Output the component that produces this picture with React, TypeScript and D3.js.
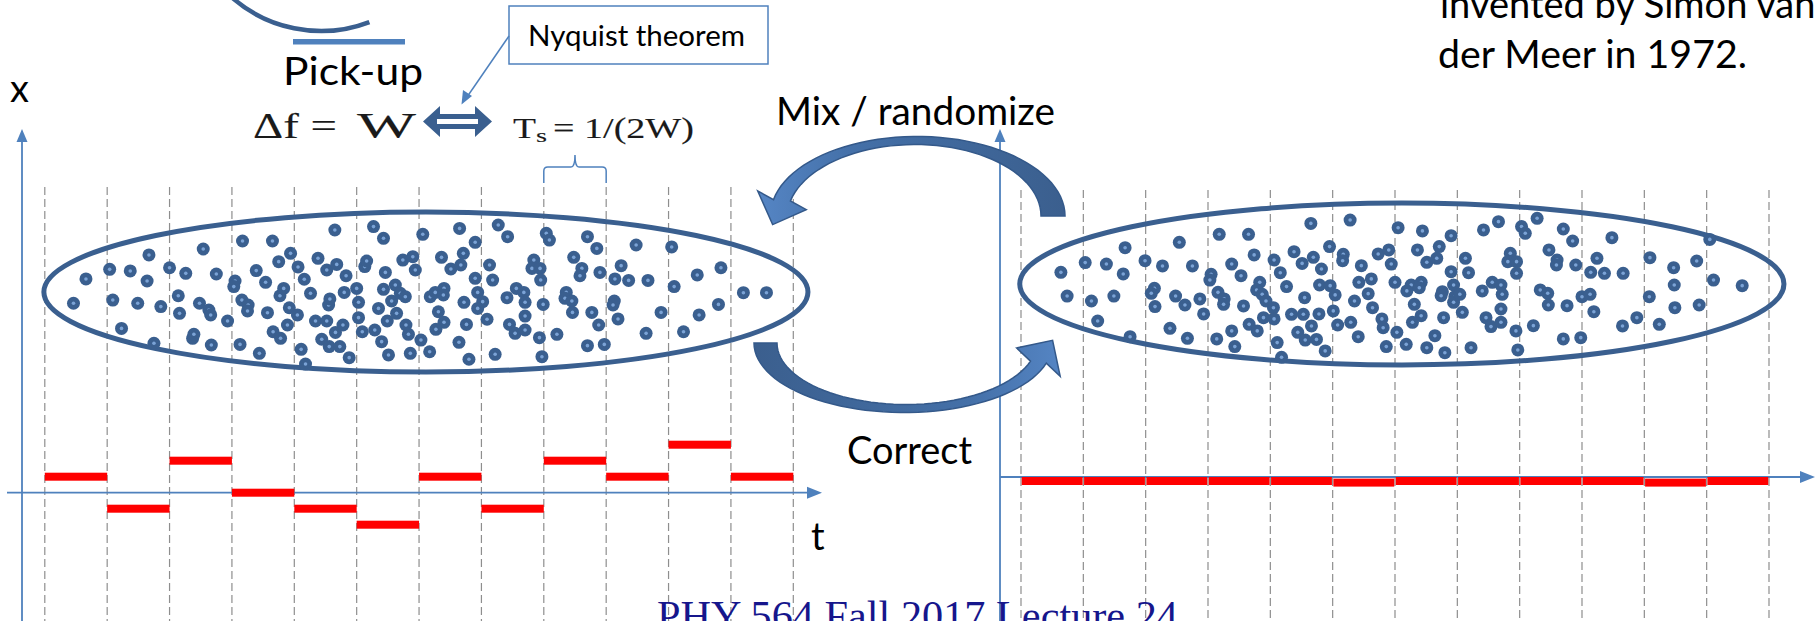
import React from 'react';
import * as d3 from 'd3';

// sample slice boundaries (dashed lines), in units of Ts
const sampleEdges = d3.range(0, 13);

// pick-up signal per slice, in bar steps (before / after correction)
const kicksBefore = [1, -1, 2, 0, -1, -2, 1, -1, 2, 1, 3, 1];
const kicksAfter = [-0.25, -0.25, -0.25, -0.25, -0.25, -0.35, -0.25, -0.25, -0.25, -0.25, -0.35, -0.25];

// particles in the beam: [t (Ts units), x (bar steps)]
const particlesBefore: [number, number][] = [
  [0.46, 11.84], [0.66, 13.36], [1.04, 13.96], [1.09, 12.04], [1.23, 10.27], [1.37, 13.86], [1.49, 11.84], [1.64, 13.23],
  [1.67, 14.86], [1.75, 9.34], [1.86, 11.63], [2.0, 14.06], [2.14, 12.31], [2.16, 11.21], [2.26, 13.71], [2.37, 9.65],
  [2.39, 9.9], [2.48, 11.84], [2.54, 15.23], [2.63, 11.42], [2.66, 11.11], [2.67, 9.23], [2.75, 13.67], [2.93, 10.73],
  [3.05, 13.23], [3.03, 12.88], [3.13, 9.27], [3.16, 12.04], [3.17, 15.73], [3.26, 11.73], [3.25, 11.36], [3.39, 13.88],
  [3.44, 8.71], [3.54, 13.15], [3.57, 11.25], [3.65, 15.73], [3.66, 10.06], [3.75, 14.44], [3.78, 9.65], [3.77, 12.31],
  [3.83, 12.77], [3.89, 10.48], [3.92, 11.56], [3.94, 14.96], [4.05, 11.11], [4.06, 14.11], [4.11, 8.96], [4.16, 13.34],
  [4.18, 8.04], [4.26, 12.46], [4.34, 10.73], [4.38, 14.65], [4.44, 9.59], [4.52, 13.92], [4.52, 10.73], [4.55, 11.73],
  [4.56, 9.13], [4.57, 12.11], [4.65, 16.42], [4.66, 10.02], [4.68, 14.27], [4.73, 9.13], [4.78, 10.48], [4.8, 12.52],
  [4.83, 13.56], [4.88, 8.44], [5.0, 12.77], [5.03, 11.9], [5.03, 10.94], [5.09, 10.06], [5.13, 14.13], [5.16, 14.48],
  [5.27, 16.63], [5.29, 10.17], [5.35, 11.52], [5.4, 9.44], [5.43, 15.9], [5.43, 12.71], [5.46, 13.77], [5.49, 10.73],
  [5.51, 8.61], [5.56, 11.98], [5.62, 12.98], [5.64, 11.21], [5.7, 12.46], [5.74, 14.54], [5.78, 12.25], [5.79, 10.48],
  [5.83, 9.9], [5.86, 8.71], [5.9, 14.75], [5.94, 13.92], [6.03, 9.54], [6.06, 16.15],
  [6.65, 16.52], [6.9, 15.65], [7.27, 16.73], [7.42, 16.0], [6.36, 14.71], [6.51, 13.98], [6.67, 14.23], [6.71, 14.96],
  [6.9, 13.4], [7.13, 14.23], [7.18, 13.29], [6.18, 12.25], [6.26, 12.52], [6.4, 12.77], [6.39, 12.36], [6.72, 11.9],
  [6.31, 11.31], [6.4, 10.65], [6.27, 10.21], [6.17, 8.81], [6.76, 10.52], [6.64, 9.4], [6.8, 8.34], [6.94, 12.52],
  [7.02, 11.94], [6.94, 11.52], [7.09, 10.84], [7.22, 8.65], [7.41, 12.19], [7.56, 12.77], [7.68, 12.52], [7.7, 11.9],
  [7.7, 11.04], [7.45, 10.52], [7.54, 9.96], [7.7, 10.17], [7.84, 14.54], [7.81, 14.02], [7.94, 14.02], [7.95, 13.29],
  [7.99, 11.77], [7.93, 9.69], [7.97, 8.5], [8.21, 9.9], [8.04, 16.21], [8.09, 15.79], [8.36, 12.52], [8.34, 12.15],
  [8.45, 11.98], [8.46, 11.27], [8.48, 14.71], [8.61, 14.02], [8.58, 13.56], [8.7, 16.0], [8.85, 15.27], [8.9, 13.77],
  [8.77, 11.27], [8.88, 10.48], [8.7, 9.19], [8.97, 9.27], [9.14, 13.36], [9.24, 14.19], [9.36, 13.27], [9.13, 11.98],
  [9.11, 11.73], [9.19, 10.86], [9.48, 15.48], [9.67, 13.27], [9.64, 9.96], [9.88, 11.27], [10.05, 15.36], [10.09, 12.88],
  [10.24, 10.06], [10.46, 13.61], [10.49, 11.11], [10.8, 11.77], [10.84, 14.06], [11.2, 12.5], [11.57, 12.5],
];

const particlesAfter: [number, number][] = [
  [0.64, 12.79], [0.74, 11.31], [1.03, 13.4], [1.13, 11.0], [1.23, 9.75], [1.37, 13.31], [1.49, 11.31], [1.64, 12.69],
  [1.67, 14.33], [1.75, 8.77], [1.99, 13.52], [2.14, 11.79], [2.09, 11.48], [2.15, 10.65], [2.27, 13.19], [2.39, 9.29],
  [2.48, 11.31], [2.54, 14.67], [2.63, 10.75], [2.67, 8.67], [2.75, 13.19], [2.87, 11.13], [2.93, 10.19], [3.05, 12.67],
  [3.03, 12.31], [3.14, 8.63], [3.16, 11.54], [3.18, 15.17], [3.26, 11.13], [3.25, 10.79], [3.38, 13.31], [3.38, 9.13],
  [3.43, 8.15], [3.53, 12.58], [3.57, 10.69], [3.65, 15.17], [3.66, 9.54], [3.74, 13.88], [3.79, 9.13], [3.83, 12.17],
  [3.78, 11.69], [3.87, 11.42], [3.89, 9.96], [3.93, 11.0], [4.06, 13.56], [4.05, 10.58], [4.06, 9.88], [4.11, 8.4],
  [4.16, 12.77], [4.18, 7.48], [4.26, 11.9], [4.34, 10.17], [4.38, 14.08], [4.44, 9.04], [4.51, 13.35], [4.53, 10.17],
  [4.55, 11.21], [4.56, 8.56], [4.65, 15.85], [4.66, 9.44], [4.69, 13.73], [4.74, 8.6], [4.78, 10.19], [4.79, 12.0],
  [4.82, 13.0], [4.88, 7.88], [4.96, 11.96], [5.04, 11.38], [4.95, 14.4], [5.01, 10.38], [5.08, 9.5], [5.17, 13.92],
  [5.16, 13.52], [5.28, 16.06], [5.29, 9.67], [5.35, 11.0], [5.41, 8.77], [5.42, 12.17], [5.46, 13.21], [5.57, 11.46],
  [5.62, 12.38], [5.64, 10.58], [5.73, 13.94], [5.79, 9.88], [5.81, 9.33], [5.86, 8.15], [5.9, 14.19], [5.94, 13.31],
  [6.0, 12.17], [6.03, 9.04], [6.05, 15.58],
  [6.44, 15.38], [6.9, 15.08], [7.42, 15.44], [7.66, 15.96], [8.03, 15.65], [8.09, 15.23], [8.28, 16.17], [6.36, 14.19],
  [6.51, 13.42], [6.67, 13.67], [6.71, 14.4], [6.9, 12.83], [7.13, 13.67], [7.18, 12.77], [6.26, 12.0], [6.42, 12.17],
  [6.19, 11.63], [6.39, 11.83], [6.31, 10.79], [6.42, 10.08], [6.28, 9.67], [6.18, 8.29], [6.51, 8.08], [6.64, 8.83],
  [6.78, 9.96], [6.8, 7.77], [6.76, 11.58], [6.74, 11.33], [6.94, 12.0], [6.96, 11.27], [6.94, 10.92], [7.04, 11.42],
  [7.08, 10.29], [7.22, 8.08], [7.4, 11.63], [7.56, 12.17], [7.7, 12.0], [7.72, 11.42], [7.7, 10.5], [7.46, 9.96],
  [7.54, 9.4], [7.7, 9.67], [7.85, 13.98], [7.81, 13.46], [7.95, 13.46], [7.95, 12.73], [7.94, 9.13], [7.97, 7.94],
  [8.22, 9.46], [8.33, 11.69], [8.45, 11.48], [8.46, 10.75], [8.47, 14.19], [8.6, 13.56], [8.59, 13.25], [8.7, 15.5],
  [8.85, 14.75], [8.9, 13.25], [8.76, 10.71], [8.7, 8.63], [8.98, 8.71], [9.0, 11.27], [9.13, 11.42], [9.14, 12.79],
  [9.24, 13.67], [9.36, 12.73], [9.19, 10.33], [9.48, 14.96], [9.66, 12.73], [9.65, 9.44], [9.88, 9.96], [10.09, 13.71],
  [10.08, 11.27], [10.24, 9.54], [10.47, 13.08], [10.48, 12.0], [10.49, 10.58], [10.84, 13.5], [10.88, 10.75],
  [11.05, 14.85], [11.11, 12.31], [11.57, 11.96],
];

// beam envelope: centre and half-axes in the same units
const beamBefore = { t: 6.11, x: 12.54, rt: 6.125, rx: 5.0 };
const beamAfter = { t: 6.11, x: 12.06, rt: 6.13, rx: 5.06 };

const W = 1817;
const H = 621;
const AXIS = '#4F81BD';
const DARK = '#3A5F8F';
const SANS = 'Lato, "Open Sans", sans-serif';
const SERIF = '"Liberation Serif", "DejaVu Serif", serif';

function curvedArrow(cx: number, cy: number, rxo: number, ryo: number, rxi: number, ryi: number,
  a0: number, a1: number, taper: number, headLen: number, headHalf: number) {
  const n = 48;
  const rad = (d: number) => (d * Math.PI) / 180;
  const rxm = (rxo + rxi) / 2, rym = (ryo + ryi) / 2;
  const outer: [number, number][] = [];
  const inner: [number, number][] = [];
  for (let i = 0; i <= n; i++) {
    const p = i / n;
    const a = rad(a0 + (a1 - a0) * p);
    const f = 1 - (1 - taper) * Math.pow(p, 1.6);
    const dx = ((rxo - rxi) / 2) * f, dy = ((ryo - ryi) / 2) * f;
    outer.push([cx + (rxm + dx) * Math.cos(a), cy + (rym + dy) * Math.sin(a)]);
    inner.push([cx + (rxm - dx) * Math.cos(a), cy + (rym - dy) * Math.sin(a)]);
  }
  const a = rad(a1), s = Math.sign(a1 - a0);
  const m = [cx + rxm * Math.cos(a), cy + rym * Math.sin(a)];
  let ux = -rxm * Math.sin(a) * s, uy = rym * Math.cos(a) * s;
  const L = Math.hypot(ux, uy);
  ux /= L; uy /= L;
  let nx = -uy, ny = ux;
  const o = outer[n];
  if ((o[0] - m[0]) * nx + (o[1] - m[1]) * ny < 0) { nx = -nx; ny = -ny; }
  const pts: [number, number][] = [
    ...outer,
    [m[0] + nx * headHalf, m[1] + ny * headHalf],
    [m[0] + ux * headLen, m[1] + uy * headLen],
    [m[0] - nx * headHalf, m[1] - ny * headHalf],
    ...inner.reverse(),
  ];
  return d3.line()(pts) + 'Z';
}

interface PanelProps {
  tScale: d3.ScaleLinear<number, number>;
  xScale: d3.ScaleLinear<number, number>;
  kicks: number[];
  particles: [number, number][];
  beam: { t: number; x: number; rt: number; rx: number };
  dashTop: number;
  yAxisX: number;
  xAxisFrom: number;
  xAxisTo: number;
  barGap: number;
}

const Panel: React.FC<PanelProps> = ({ tScale, xScale, kicks, particles, beam, dashTop, yAxisX, xAxisFrom, xAxisTo, barGap }) => {
  const y0 = xScale(0);
  const unitT = tScale(1) - tScale(0);
  const unitX = xScale(0) - xScale(1);
  return (
    <g>
      {sampleEdges.map((e) => (
        <line key={e} x1={tScale(e)} x2={tScale(e)} y1={dashTop} y2={H}
          stroke="#8E8E8E" strokeWidth={1.2} strokeDasharray="8 4" />
      ))}
      {/* axes */}
      <line x1={yAxisX} x2={yAxisX} y1={H} y2={140} stroke={AXIS} strokeWidth={1.8} />
      <path d={`M${yAxisX - 5.5},${142}L${yAxisX},${129}L${yAxisX + 5.5},${142}Z`} fill={AXIS} />
      <line x1={xAxisFrom} x2={xAxisTo - 10} y1={y0} y2={y0} stroke={AXIS} strokeWidth={1.8} />
      <path d={`M${xAxisTo - 15},${y0 - 6}L${xAxisTo},${y0}L${xAxisTo - 15},${y0 + 6}Z`} fill={AXIS} />
      {/* signal bars */}
      {kicks.map((k, i) => (
        <rect key={i} x={tScale(i) + barGap / 2} width={unitT - barGap} y={xScale(k) - 4} height={8} fill="#FF0000" />
      ))}
      {/* beam */}
      <ellipse cx={tScale(beam.t)} cy={xScale(beam.x)} rx={beam.rt * unitT} ry={beam.rx * unitX}
        fill="none" stroke={DARK} strokeWidth={5} />
      {particles.map(([t, x], i) => (
        <g key={i}>
          <circle cx={tScale(t)} cy={xScale(x)} r={6.5} fill={DARK} />
          <circle cx={tScale(t)} cy={xScale(x)} r={1.8} fill="#7BA3D6" />
        </g>
      ))}
    </g>
  );
};

export default function App() {
  const tLeft = d3.scaleLinear().domain([0, 12]).range([44.8, 793.3]);
  const xLeft = d3.scaleLinear().domain([0, 10]).range([492.7, 332.7]);
  const tRight = d3.scaleLinear().domain([0, 12]).range([1021, 1769]);
  const xRight = d3.scaleLinear().domain([0, 10]).range([477, 317]);

  const pickArc = d3.path();
  pickArc.arc(321, -104, 135, (69 * Math.PI) / 180, (134 * Math.PI) / 180, false);

  const b0 = tLeft(8), b1 = tLeft(9), bm = (b0 + b1) / 2;
  const brace = `M${b0},183V171Q${b0},167 ${b0 + 4},167H${bm - 4}Q${bm},167 ${bm},155Q${bm},167 ${bm + 4},167H${b1 - 4}Q${b1},167 ${b1},171V183`;

  const topArrow = curvedArrow(916, 216, 149, 80, 125, 71, 0, -168, 0.72, 26, 26);
  const bottomArrow = curvedArrow(905, 343, 151, 70, 128, 61, 180, 17, 0.72, 26, 26);

  return (
    <svg width={W} height={H} style={{ position: 'absolute', left: 0, top: 0, background: '#fff' }}>
      <defs>
        <linearGradient id="gTop" gradientUnits="userSpaceOnUse" x1={760} y1={0} x2={1065} y2={0}>
          <stop offset="0" stopColor="#5585C4" />
          <stop offset="0.3" stopColor="#4470A8" />
          <stop offset="1" stopColor="#3B5F8E" />
        </linearGradient>
        <linearGradient id="gBot" gradientUnits="userSpaceOnUse" x1={755} y1={0} x2={1062} y2={0}>
          <stop offset="0" stopColor="#3B5F8E" />
          <stop offset="0.7" stopColor="#4470A8" />
          <stop offset="1" stopColor="#5585C4" />
        </linearGradient>
      </defs>

      <Panel tScale={tLeft} xScale={xLeft} kicks={kicksBefore} particles={particlesBefore} beam={beamBefore}
        dashTop={187} yAxisX={22} xAxisFrom={7} xAxisTo={822} barGap={0} />
      <Panel tScale={tRight} xScale={xRight} kicks={kicksAfter} particles={particlesAfter} beam={beamAfter}
        dashTop={190} yAxisX={1000} xAxisFrom={1000} xAxisTo={1815} barGap={1.5} />

      {/* pick-up */}
      <path d={pickArc.toString()} fill="none" stroke={DARK} strokeWidth={4.5} />
      <rect x={293} y={39} width={112} height={5.5} fill={AXIS} />
      <text x={283} y={85} fontFamily={SANS} fontSize={38} textLength={140} lengthAdjust="spacingAndGlyphs">Pick-up</text>
      <text x={10} y={102} fontFamily={SANS} fontSize={38}>x</text>
      <text x={811} y={550} fontFamily={SANS} fontSize={38}>t</text>

      {/* Nyquist callout */}
      <rect x={509} y={6} width={259} height={58} fill="#fff" stroke={AXIS} strokeWidth={1.5} />
      <text x={528} y={46} fontFamily={SANS} fontSize={28} textLength={217} lengthAdjust="spacingAndGlyphs">Nyquist theorem</text>
      <line x1={509} y1={36} x2={467} y2={97} stroke={AXIS} strokeWidth={1.5} />
      <path d="M461.5,104.5L463,90L472,96Z" fill={AXIS} />

      {/* formula (stretched wide, as pasted in the slide) */}
      <g fontFamily={SERIF} fill="#1a1a1a" stroke="#1a1a1a" strokeWidth={0.12}>
        <text x={253} y={138} fontSize={36} textLength={84} lengthAdjust="spacingAndGlyphs">Δf =</text>
        <text x={357} y={138} fontSize={36} textLength={59} lengthAdjust="spacingAndGlyphs">W</text>
        <text x={513} y={138} fontSize={29} textLength={23} lengthAdjust="spacingAndGlyphs">T</text>
        <text x={536} y={142} fontSize={19} textLength={11} lengthAdjust="spacingAndGlyphs">s</text>
        <text x={553} y={138} fontSize={29} textLength={141} lengthAdjust="spacingAndGlyphs">= 1/(2W)</text>
      </g>
      <path d="M423,121.5L440,106V114H475V106L492,121.5L475,137V129H440V137Z" fill={DARK} />
      <rect x={437} y={119} width={41} height={5} fill="#fff" />
      <path d={brace} fill="none" stroke={AXIS} strokeWidth={1.5} />

      {/* mixing / correction loop */}
      <path d={topArrow} fill="url(#gTop)" stroke="#34598A" strokeWidth={1.5} />
      <path d={bottomArrow} fill="url(#gBot)" stroke="#34598A" strokeWidth={1.5} />
      <text x={776} y={125} fontFamily={SANS} fontSize={38} textLength={279} lengthAdjust="spacingAndGlyphs">Mix / randomize</text>
      <text x={847} y={464} fontFamily={SANS} fontSize={38} textLength={125} lengthAdjust="spacingAndGlyphs">Correct</text>

      {/* note, top right */}
      <text x={1440} y={18} fontFamily={SANS} fontSize={38}>invented by Simon van</text>
      <text x={1438} y={68} fontFamily={SANS} fontSize={38} textLength={309} lengthAdjust="spacingAndGlyphs">der Meer in 1972.</text>

      {/* footer */}
      <text x={657} y={630} fontFamily='"Liberation Serif", "Times New Roman", serif' fontSize={42} fill="#16168C"
        textLength={521} lengthAdjust="spacingAndGlyphs">PHY 564 Fall 2017 Lecture 24</text>
    </svg>
  );
}
